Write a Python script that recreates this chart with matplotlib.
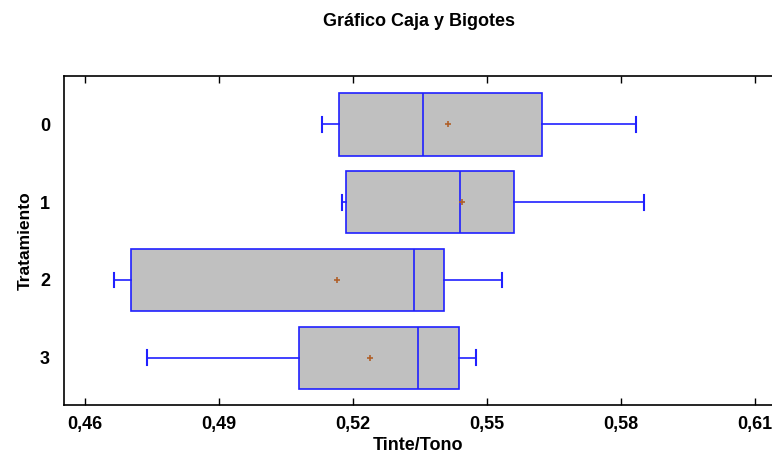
import matplotlib
matplotlib.use("Agg")
import matplotlib.pyplot as plt
from matplotlib.ticker import FuncFormatter, FixedLocator

plt.rcParams['font.family'] = ['Liberation Sans', 'DejaVu Sans']

categories = ["0", "1", "2", "3"]
whislo = [0.5131, 0.5176, 0.4666, 0.4740]
q1 = [0.5168, 0.5185, 0.4703, 0.5080]
med = [0.5358, 0.5441, 0.5337, 0.5347]
q3 = [0.5624, 0.5561, 0.5404, 0.5438]
whishi = [0.5834, 0.5853, 0.5534, 0.5476]
means = [0.5414, 0.5444, 0.5164, 0.5238]
xticks = [0.46, 0.49, 0.52, 0.55, 0.58, 0.61]

stats = []
for i, c in enumerate(categories):
    stats.append(dict(label=c, whislo=whislo[i], q1=q1[i], med=med[i],
                      q3=q3[i], whishi=whishi[i], mean=means[i], fliers=[]))

fig = plt.figure(figsize=(7.72, 4.55), dpi=100)
ax = fig.add_axes([0.0829, 0.1099, 0.9171, 0.7231])

blue = '#2020ff'
ax.bxp(stats, positions=range(len(categories)), orientation='horizontal',
       widths=0.8, patch_artist=True, showmeans=True, showcaps=True,
       boxprops=dict(facecolor='#c0c0c0', edgecolor=blue, linewidth=1.2),
       medianprops=dict(color=blue, linewidth=1.2),
       whiskerprops=dict(color=blue, linewidth=1.2),
       capprops=dict(color=blue, linewidth=1.5),
       capwidths=0.19,
       meanprops=dict(marker='+', markeredgecolor='#b0602a', markersize=5,
                      markeredgewidth=1.2))

ax.set_xlim(0.4553, 0.6139)
ax.set_ylim(3.61, -0.624)
ax.xaxis.set_major_locator(FixedLocator(xticks))
ax.xaxis.set_major_formatter(FuncFormatter(lambda v, p: f"{v:.2f}".replace('.', ',')))
ax.set_yticks(range(len(categories)))
ax.set_yticklabels(categories, fontweight='bold', fontsize=13)
ax.tick_params(axis='y', length=0, pad=10)
ax.tick_params(axis='x', direction='in', top=True, length=5, width=1,
               labelsize=13, pad=8)
for lab in ax.get_xticklabels():
    lab.set_fontweight('bold')
ax.spines['right'].set_visible(False)
for s in ['left', 'top', 'bottom']:
    ax.spines[s].set_linewidth(1.2)

ax.set_xlabel("Tinte/Tono", fontweight='bold', fontsize=13, labelpad=3)
ax.set_ylabel("Tratamiento", fontweight='bold', fontsize=12.5, labelpad=5)
fig.text(0.5427, 0.953, "Gráfico Caja y Bigotes", ha='center', va='center',
         fontweight='bold', fontsize=13)

fig.savefig("out.png", dpi=100)
